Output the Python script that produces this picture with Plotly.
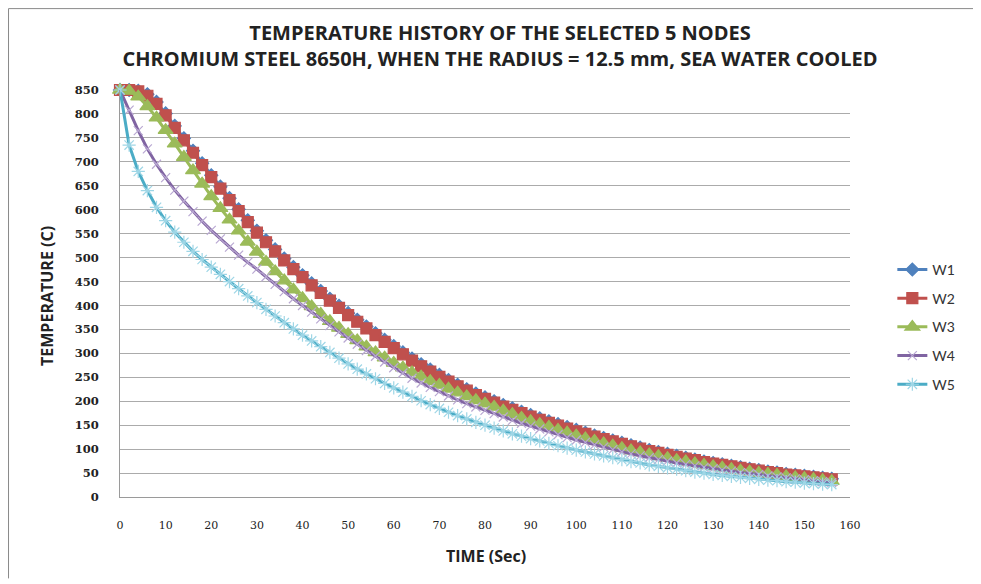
import plotly.graph_objects as go

# ---- data ----
TIME = [0, 2, 4, 6, 8, 10, 12, 14, 16, 18, 20, 22, 24, 26, 28, 30, 32, 34, 36, 38,
        40, 42, 44, 46, 48, 50, 52, 54, 56, 58, 60, 62, 64, 66, 68, 70, 72, 74, 76, 78,
        80, 82, 84, 86, 88, 90, 92, 94, 96, 98, 100, 102, 104, 106, 108, 110, 112, 114, 116, 118,
        120, 122, 124, 126, 128, 130, 132, 134, 136, 138, 140, 142, 144, 146, 148, 150, 152, 154, 156]

W1 = [850, 850, 848, 841, 825, 801, 775, 749, 723, 697, 672, 648, 624, 601, 578, 556, 536, 517, 498, 480,
      463, 446, 430, 414, 399, 384, 370, 356, 342, 328, 315, 302, 289, 277, 266, 255, 244, 234, 225, 216,
      208, 200, 192, 185, 178, 171, 164, 158, 152, 146, 140, 134, 128, 123, 118, 113, 108, 103, 98, 94,
      90, 86, 82, 78, 74, 71, 68, 65, 62, 59, 56, 53, 51, 48, 46, 44, 42, 40, 38]

W2 = [850, 850, 847, 838, 821, 797, 771, 745, 719, 693, 668, 644, 620, 597, 574, 552, 532, 513, 494, 476,
      459, 442, 426, 410, 395, 380, 366, 352, 338, 324, 311, 298, 285, 273, 262, 251, 241, 231, 222, 213,
      205, 197, 189, 182, 175, 168, 161, 155, 149, 143, 137, 132, 126, 121, 116, 111, 106, 101, 96, 92,
      88, 84, 80, 77, 73, 70, 67, 64, 61, 58, 55, 52, 50, 47, 45, 43, 41, 39, 37]

W3 = [850, 848, 836, 816, 792, 766, 738, 710, 682, 654, 628, 603, 579, 556, 533, 512, 491, 471, 452, 433,
      415, 398, 382, 367, 353, 340, 327, 314, 302, 291, 280, 270, 260, 251, 242, 234, 226, 218, 210, 202,
      195, 188, 180, 173, 165, 158, 152, 146, 140, 134, 128, 122, 117, 112, 107, 102, 97, 93, 89, 85,
      81, 77, 74, 70, 67, 64, 61, 58, 55, 53, 50, 48, 46, 43, 41, 39, 37, 35, 33]

W4 = [850, 808, 765, 727, 695, 667, 641, 618, 596, 576, 557, 539, 522, 505, 490, 476, 460, 444, 429, 414,
      400, 386, 372, 358, 345, 332, 319, 306, 294, 282, 270, 259, 248, 238, 229, 220, 211, 203, 195, 188,
      181, 174, 167, 160, 154, 148, 142, 136, 130, 124, 119, 114, 109, 104, 99, 94, 90, 86, 82, 78,
      75, 71, 68, 65, 62, 59, 56, 54, 51, 49, 47, 44, 42, 40, 38, 36, 34, 32, 30]

W5 = [850, 735, 680, 640, 605, 577, 553, 532, 513, 496, 480, 465, 450, 435, 420, 406, 392, 378, 364, 351,
      338, 326, 314, 302, 290, 278, 267, 257, 247, 237, 228, 219, 210, 201, 193, 185, 177, 170, 163, 156,
      150, 144, 138, 132, 127, 122, 117, 112, 107, 102, 98, 94, 90, 86, 82, 78, 74, 71, 67, 64,
      61, 58, 55, 52, 50, 47, 45, 43, 41, 39, 37, 35, 34, 32, 31, 29, 28, 27, 26]

SERIES_NAMES = ["W1", "W2", "W3", "W4", "W5"]
Y_TICKS = list(range(0, 851, 50))
X_TICKS = list(range(0, 161, 10))

TITLE = "TEMPERATURE HISTORY OF THE SELECTED 5 NODES<br>CHROMIUM STEEL 8650H, WHEN THE RADIUS = 12.5 mm, SEA WATER COOLED"

# ---- styles ----
styles = [
    dict(line="#4F81BD", marker="#4F81BD", symbol="diamond", size=10),
    dict(line="#C0504D", marker="#C0504D", symbol="square", size=11),
    dict(line="#9BBB59", marker="#9BBB59", symbol="triangle-up", size=13),
    dict(line="#8064A2", marker="#B9A8D2", symbol="x-thin-open", size=9),
    dict(line="#4BACC6", marker="#9ED6E6", symbol="asterisk-open", size=11),
]

fig = go.Figure()
for name, vals, st in zip(SERIES_NAMES, [W1, W2, W3, W4, W5], styles):
    fig.add_trace(go.Scatter(
        x=TIME, y=vals, name=name, mode="lines+markers", legendgroup=name,
        line=dict(color=st["line"], width=3),
        marker=dict(symbol=st["symbol"], size=st["size"], color=st["marker"],
                    line=dict(color=st["marker"], width=1.2)),
        cliponaxis=False,
    ))

# page body has an 8px margin, so the figure is 8px smaller than the window
fig.update_layout(
    width=973, height=576,
    paper_bgcolor="white", plot_bgcolor="white",
    margin=dict(l=112, r=131, t=82, b=87),
    title=dict(text=TITLE, x=0.5057, xanchor="center", y=0.9436, yanchor="middle",
               font=dict(family="Open Sans", size=20, color="#222222", weight="bold")),
    xaxis=dict(range=[0, 160], tickvals=X_TICKS, showgrid=False, zeroline=False,
               showline=True, linecolor="#9a9a9a", linewidth=1, ticks="",
               ticklabelstandoff=18,
               tickfont=dict(family="DejaVu Serif", size=11, color="#222222")),
    yaxis=dict(range=[0, 850], tickvals=Y_TICKS, showgrid=True, gridcolor="#ababab", gridwidth=1,
               zeroline=False, showline=True, linecolor="#9a9a9a", linewidth=1, ticks="",
               ticklabelstandoff=18,
               tickfont=dict(family="DejaVu Serif", size=11.5, color="#222222", weight="bold")),
    legend=dict(x=1.058, xanchor="left", y=0.418, yanchor="middle",
                font=dict(family="Lato", size=14, color="#333333"),
                tracegroupgap=7.5, bgcolor="rgba(0,0,0,0)"),
    annotations=[
        dict(text="<b>TIME (Sec)</b>", xref="paper", yref="paper", x=0.5014, y=-0.145,
             xanchor="center", yanchor="middle", showarrow=False,
             font=dict(family="Open Sans", size=16, color="#222222")),
        dict(text="<b>TEMPERATURE (C)</b>", xref="paper", yref="paper", x=-0.1, y=0.494,
             xanchor="center", yanchor="middle", textangle=-90, showarrow=False,
             font=dict(family="Open Sans", size=16, color="#222222")),
    ],
    shapes=[
        dict(type="path", xref="paper", yref="paper",
             path="M -0.1527,-0.2 L -0.1527,1.2 L 1.18,1.2",
             line=dict(color="#8a8a8a", width=1)),
    ],
)

fig.write_html("out.html")
